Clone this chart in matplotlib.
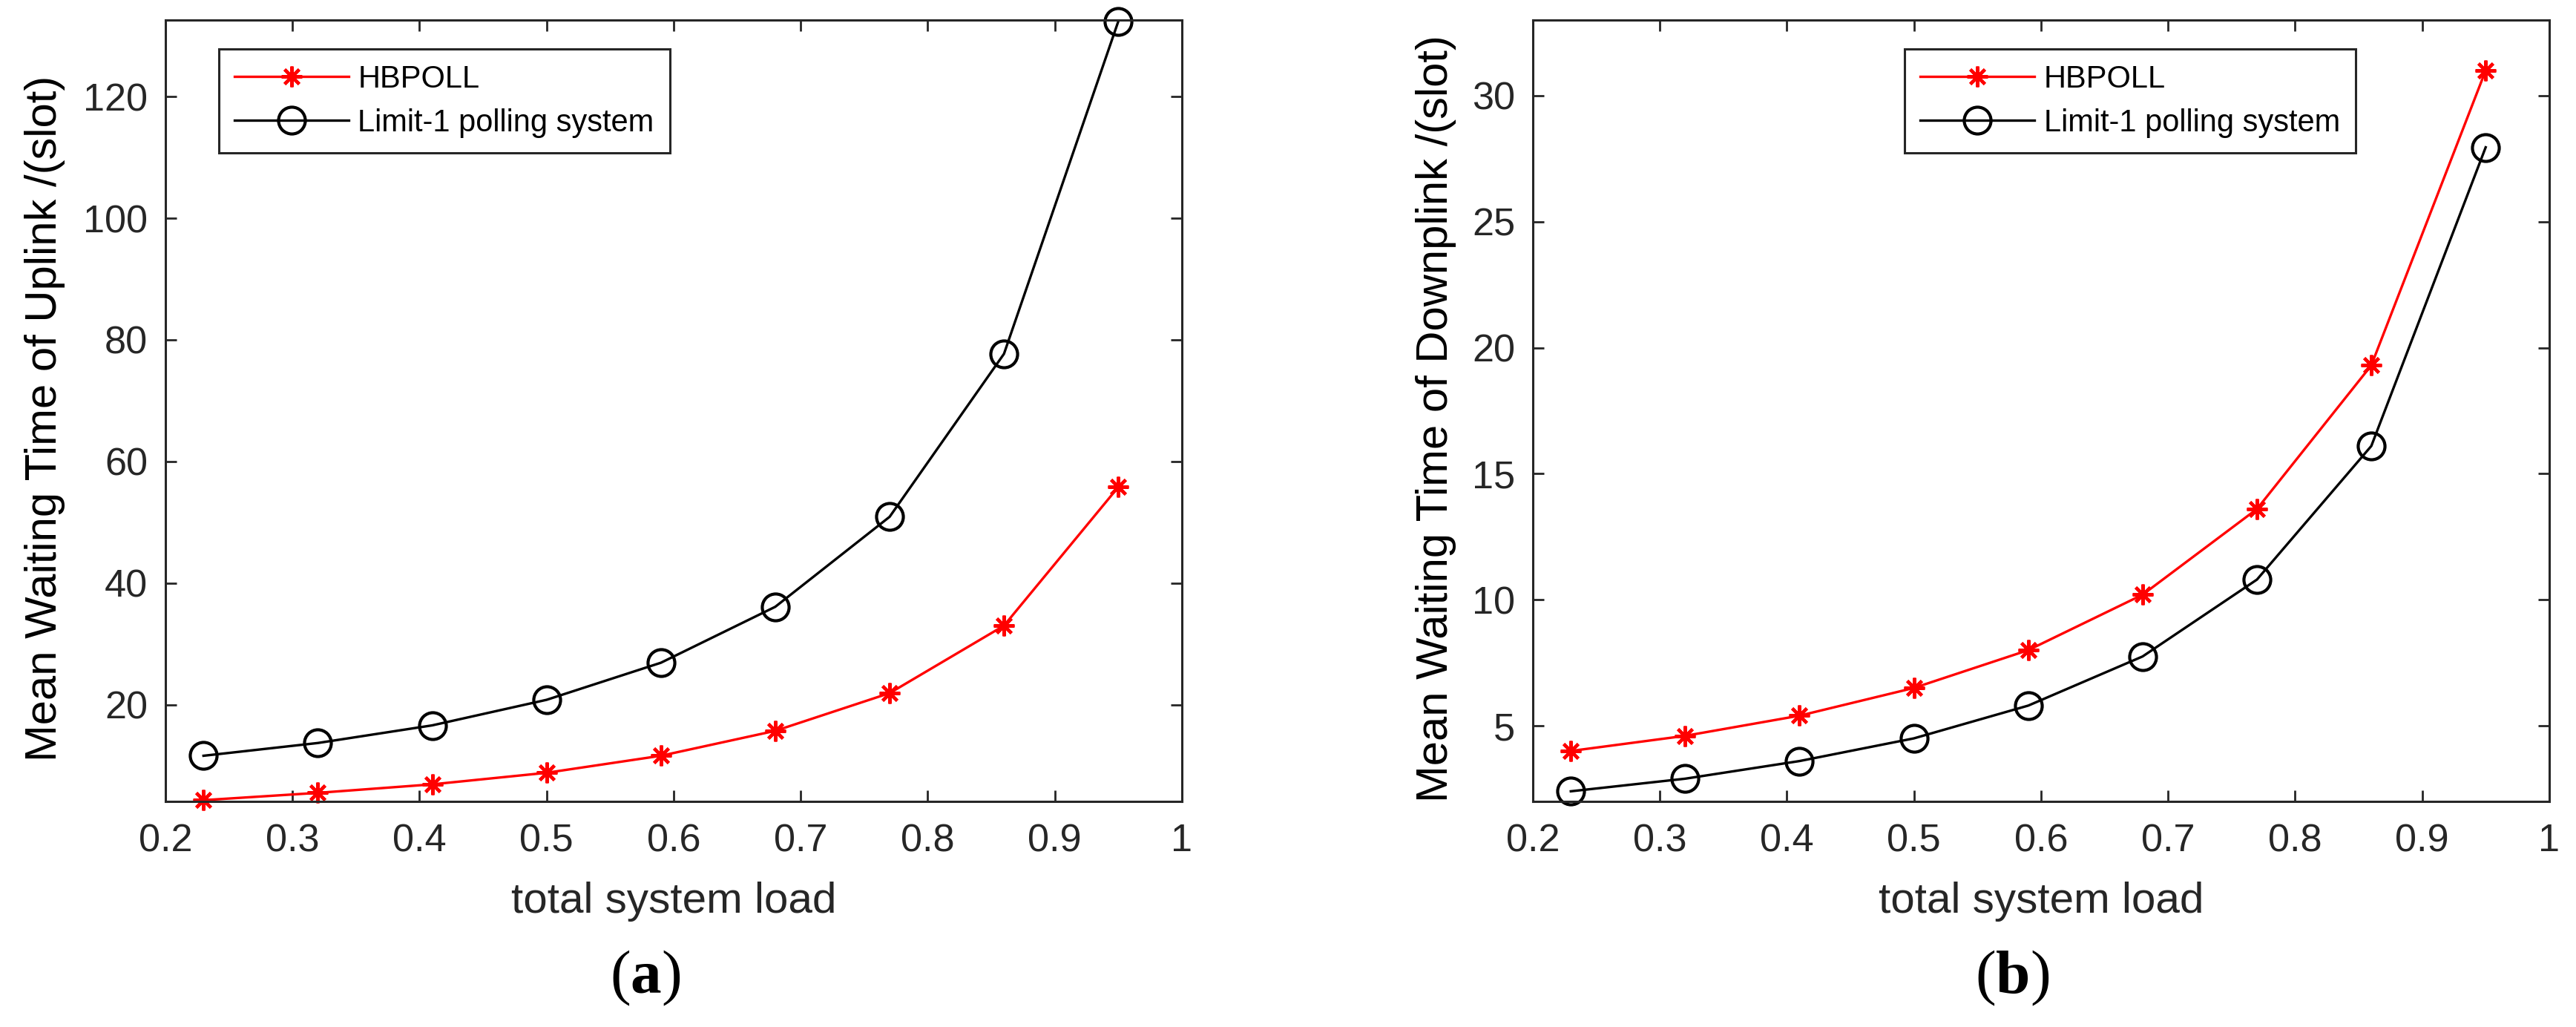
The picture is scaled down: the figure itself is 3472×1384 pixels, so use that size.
import matplotlib
matplotlib.use("Agg")
import matplotlib.pyplot as plt

# data
load = [0.23, 0.32, 0.41, 0.50, 0.59, 0.68, 0.77, 0.86, 0.95]

up_hbpoll = [4.3, 5.5, 6.9, 8.8, 11.6, 15.7, 21.9, 33.0, 55.8]
up_limit1 = [11.6, 13.7, 16.6, 20.8, 26.9, 36.1, 50.9, 77.7, 132.4]

down_hbpoll = [4.0, 4.6, 5.4, 6.5, 8.0, 10.2, 13.6, 19.3, 31.0]
down_limit1 = [2.4, 2.9, 3.6, 4.5, 5.8, 7.75, 10.8, 16.1, 27.95]

xticks = [0.2, 0.3, 0.4, 0.5, 0.6, 0.7, 0.8, 0.9, 1.0]
xticklabels = ["0.2", "0.3", "0.4", "0.5", "0.6", "0.7", "0.8", "0.9", "1"]
up_yticks = [20, 40, 60, 80, 100, 120]
down_yticks = [5, 10, 15, 20, 25, 30]

legend_names = ["HBPOLL", "Limit-1 polling system"]

plt.rcParams["font.family"] = ["Liberation Sans", "DejaVu Sans"]
plt.rcParams["mathtext.fontset"] = "custom"
plt.rcParams["mathtext.rm"] = "Liberation Serif"
plt.rcParams["mathtext.bf"] = "Liberation Serif:bold"

GRAY = "#262626"
asterisk = (8, 2, 0)

fig = plt.figure(figsize=(17.36, 6.92), dpi=200)
ax1 = fig.add_axes([0.0642, 0.2197, 0.3946, 0.7608])
ax2 = fig.add_axes([0.5950, 0.2197, 0.3946, 0.7608])


def style_axes(ax, hb, l1, ylabel, yticks, ylim, ylab_x, leg_x):
    ax.plot(load, hb, color="#ff0000", lw=1.2, marker=asterisk,
            ms=10, mew=1.5, label=legend_names[0], clip_on=False)
    ax.plot(load, l1, color="black", lw=1.2, marker="o", ms=13,
            mew=1.5, mfc="none", label=legend_names[1], clip_on=False)
    ax.set_xlim(0.2, 1.0)
    ax.set_ylim(*ylim)
    ax.set_xticks(xticks)
    ax.set_xticklabels(xticklabels)
    ax.set_yticks(yticks)
    ax.tick_params(direction="in", length=5.5, width=1.0, colors=GRAY,
                   labelsize=18.8, top=True, right=True)
    ax.tick_params(axis="x", pad=10.5)
    ax.tick_params(axis="y", pad=8.5)
    for s in ax.spines.values():
        s.set_linewidth(1.1)
        s.set_color(GRAY)
    ax.set_xlabel("total system load", fontsize=21, color=GRAY)
    ax.xaxis.set_label_coords(0.5, -0.103)
    ax.set_ylabel(ylabel, fontsize=21.5, color="black")
    ax.yaxis.set_label_coords(ylab_x, 0.49)
    leg = ax.legend(loc="upper left", bbox_to_anchor=(leg_x, 0.963),
                    fontsize=15, handlelength=3.7, handletextpad=0.3,
                    borderpad=0.5, labelspacing=0.45, fancybox=False,
                    framealpha=1, edgecolor=GRAY, borderaxespad=0)
    leg.get_frame().set_linewidth(1.1)
    for t in leg.get_texts():
        t.set_color("black")


style_axes(ax1, up_hbpoll, up_limit1, "Mean Waiting Time of Uplink /(slot)",
           up_yticks, (4.1, 132.6), -0.0985, 0.0526)
style_axes(ax2, down_hbpoll, down_limit1,
           "Mean Waiting Time of Downplink /(slot)",
           down_yticks, (2.0, 33.0), -0.075, 0.366)

fig.text(0.2506, 0.0477, r"$\mathrm{(}\mathbf{a}\mathrm{)}$", fontsize=30,
         ha="center", va="center")
fig.text(0.7811, 0.0477, r"$\mathrm{(}\mathbf{b}\mathrm{)}$", fontsize=30,
         ha="center", va="center")

fig.savefig("out.png", dpi=200)
plt.close(fig)
